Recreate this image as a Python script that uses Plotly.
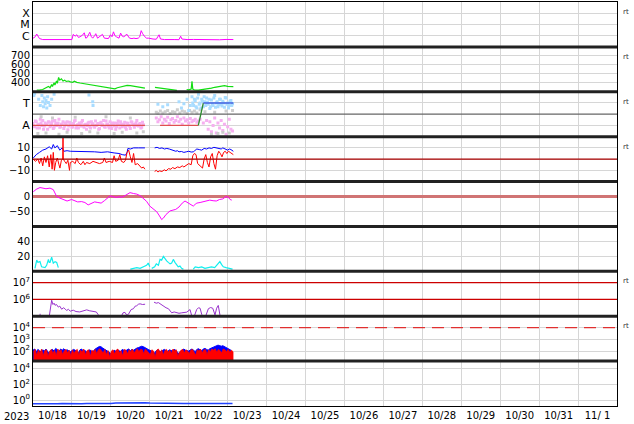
import pandas as pd
import plotly.graph_objects as go
from plotly.subplots import make_subplots

T0 = pd.Timestamp("2023-10-18 00:00")
X_START = "2023-10-18 00:00"
X_END = "2023-11-02 00:00"

# ---------------- data (hours after 2023-10-18 00:00, value) ----------------
xray = [(0, 6e-7), (1, 7e-7), (2.3, 1.4e-6), (3, 9e-7), (4, 5.5e-7), (6, 4.5e-7), (9, 4.5e-7), (12, 4.2e-7),
        (15, 4.5e-7), (18, 4.3e-7), (21, 4.5e-7), (24, 4.5e-7), (24.8, 1.3e-6), (26, 9e-7), (27, 1.2e-6),
        (28, 7e-7), (29, 8e-7), (30.5, 1.1e-6), (31.6, 1.8e-6), (32.5, 6e-7), (33.4, 7e-7), (34.2, 1.4e-6),
        (35, 2e-6), (36, 8e-7), (36.8, 6e-7), (38, 1e-6), (38.7, 1.5e-6), (39.8, 6e-7), (40.5, 7e-7),
        (42, 1.1e-6), (42.8, 1.3e-6), (44, 6e-7), (45, 6e-7), (46.5, 5.5e-7), (47.8, 1.2e-6), (48.7, 8e-7),
        (49.6, 2.2e-6), (50.5, 1e-6), (51.4, 8e-7), (53, 6e-7), (54, 1.7e-6), (55, 9e-7), (55.9, 8e-7),
        (57, 1e-6), (57.7, 1.4e-6), (58.8, 7e-7), (59.5, 6e-7), (61, 5.5e-7), (62.2, 6e-7), (63.5, 5.5e-7),
        (64.9, 6e-7), (65.8, 8e-7), (66.7, 2.8e-6), (67.6, 1.5e-6), (68.6, 9e-7), (70, 6e-7), (71.3, 6e-7),
        (74, 5e-7), (76, 4.8e-7), (77.7, 1.2e-6), (78.6, 5e-7), (81, 4.5e-7), (84, 4.8e-7), (87, 4.5e-7),
        (90, 4.4e-7), (91, 9e-7), (91.8, 5e-7), (95, 4.5e-7), (99, 4.6e-7), (103, 4.4e-7), (107, 4.5e-7),
        (111, 4.4e-7), (115, 4.3e-7), (119, 4.6e-7), (123.5, 4.5e-7)]

speed = [(2.3, 320), (4, 318), (6, 325), (8, 340), (9.5, 360), (10.5, 345), (11.5, 380), (12, 360), (13, 400),
         (13.5, 375), (14.5, 420), (15, 395), (15.8, 460), (16.5, 430), (17.5, 445), (18.5, 420), (19.5, 430),
         (20.5, 415), (22, 420), (23, 410), (24.5, 405), (25.5, 418), (27, 405), (29, 398), (31, 392), (33, 385),
         (35, 378), (37, 372), (39, 365), (41, 360), (43, 352), (45, 345), (47, 340), (49, 335), (50.5, 332),
         (52, 345), (54, 355), (56, 362), (58, 372), (60, 368), (62, 362), (64, 355), (66, 348), (68, 342),
         (69, 340), (69.5, None), (75.2, 350), (77, 345), (80, 335), (83, 328), (86, 320), (88.7, 315),
         (89, None), (94.7, 325), (96, 322), (97.5, 330), (98, 418), (98.5, 330), (99.5, 320), (102, 318),
         (104, 322), (106, 325), (108, 330), (110, 340), (112, 350), (114, 358), (116, 362), (118, 368),
         (120, 360), (122, 362), (123.5, 358)]

# IMF sector panel (angle, deg): A ~ 90, T ~ 270
pink_a = [105, 80, 120, 95, 70, 110, 130, 85, 100, 60, 115, 90, 125, 75, 105, 95, 140, 80, 100, 65,
          110, 120, 85, 95, 75, 105, 130, 90, 70, 100, 115, 85, 95, 60, 110, 80, 120, 100, 75, 90,
          105, 65, 115, 95, 80, 125, 100, 70, 90, 110, 85, 60, 105, 95, 120, 80, 100, 75, 110, 90,
          65, 115, 95, 100, 130, 85, 105, 75, 95]
pink_b = [85, 125, 70, 100, 140, 90, 60, 110, 95, 120, 80, 105, 65, 130, 90, 110, 75, 100, 120, 85,
          95, 55, 115, 100, 80, 125, 70, 95, 110, 85, 130, 75, 100, 90, 115, 70, 105, 85, 125, 95,
          60, 110, 90, 130, 75, 100, 85, 120, 65, 95, 110, 80, 125, 70, 100, 90, 115, 60, 105, 85,
          120, 95, 75, 110, 90, 100, 70, 115]
pink_c = [150, 120, 135, 160, 110, 140, 125, 155, 105, 135, 145, 115, 130, 160, 120, 140, 100, 150, 125, 135,
          110, 145, 120, 130, 140, 115, 125, 140, None, 110, None, 130, 60, 120, 40, 90, 150, 30, 110, 70,
          130, 50, 100, 20, 80, 140, 60, 45]
gray_pts = [(3, 25), (5, 160), (8, 30), (12, 150), (16, 20), (21, 35), (26, 155), (30, 25), (35, 40), (40, 30),
            (45, 160), (50, 25), (55, 35), (60, 150), (64, 30), (68, 40), (76, 195), (77, 185), (78.5, 205),
            (80, 190), (81.5, 200), (83, 210), (84.5, 185), (86, 200), (87.5, 195), (89, 215), (90.5, 190),
            (92, 205), (93.5, 200), (95, 185), (96.5, 210), (98, 195), (99.5, 205), (101, 190), (103, 215),
            (106, 200), (110, 20), (112, 195), (114, 25), (117, 35), (119, 205), (121, 30), (123, 210)]
blue_pts = [(0.5, 330), (1, 345), (3.5, 300), (4.5, 250), (5.5, 330), (6, 280), (6.5, 240), (7, 310), (7.5, 265),
            (8, 290), (8.5, 230), (9, 320), (9.5, 275), (10.5, 250), (11.5, 300), (13, 340), (34.5, 335),
            (36.8, 280), (37, 250), (77, 260), (80, 240), (83, 255), (90, 280), (91.5, 230), (93, 265),
            (95, 300), (96, 210), (97, 250)]
blue_c = [320, 250, 290, 230, 340, 270, 300, 240, 280, 310, 260, 225, 295, 250, 330, 270, 240, 300, 260, 285,
          235, 310, 270, 250, 290, 265]
blue_d = [270, 300, 240, 310, 260, 230, 285, 320, 250, 275, 300, 240, 265, 310, 235, 280, 255, 300, 245, 270,
          315, 260, 230, 285, 250]
sector_away = [(0, 90), (69, 90), (70, None), (78.3, 90), (101.9, 90)]
sector_turn = [(101.9, 90), (105, 270)]
sector_toward = [(105, 270), (123.5, 270)]

bt = [(0.2, 1), (2, 4), (4, 6), (6, 8), (8, 9), (10, 11), (11.5, 9), (12.5, 13), (13.5, 10), (15, 12), (16.5, 8),
      (18, 10), (19, 7), (21, 7.5), (23, 7), (26, 7), (30, 6.5), (34, 7), (38, 6.5), (42, 6), (46, 6.5),
      (50, 5.5), (53, 5), (55, 4), (57, 3.5), (58, 6), (58.5, 9.5), (60, 9), (62, 10), (65, 10), (69, 10),
      (70, None), (75, 10), (76.5, 10.5), (78, 9.5), (79.5, 10), (81, 9), (82.5, 9.5), (84, 9), (85, 8.5),
      (86, 8), (87, 7.5), (88, 7), (89, 7.5), (90, 6.5), (91.5, 6.8), (93, 6), (94.5, 6.5), (96, 7),
      (97.5, 6.3), (99, 6.5), (100, 8), (101, 9), (102.5, 8.5), (104, 8), (105.5, 9.5), (107, 9), (108.5, 10),
      (110, 9.5), (111.5, 10.5), (113, 10), (114.5, 9.5), (116, 9), (117, 10), (118, 9.5), (119, 8.5),
      (120, 8), (121, 9), (122, 8.5), (123.5, 7)]
bz = [(0.2, 0), (1.5, -2), (3, 0), (4, -4), (5, 1), (6, -6), (7, 2), (8, -3), (9, 3), (10, -7), (11, 4),
      (11.8, -9), (12.5, 6), (13.2, -10), (14, -3), (15, 1), (16, -5), (16.6, -8), (17.5, -1), (18.3, 0),
      (18.5, 21), (18.7, 0), (19.5, -2), (20.5, -4), (21.5, -1), (22.5, -10), (23, -3), (24.5, -2), (26, -4),
      (27, 1), (28, -3), (29.5, -5), (31, -2), (32, -5), (33, -3), (35, -4), (37, -2), (39, -3), (41, -4),
      (43, -3), (44, 1), (45, -3), (47, -2), (49, -3), (50, 3), (51, -2), (52.5, -1), (53.5, 4), (54.5, -2),
      (56, -3), (57, -1), (58, 6), (59, 8), (60, 2), (61, -3), (62, 5), (63, -5), (64.5, -4), (66, -6),
      (67, -8), (68, -7), (69, -9), (70, None), (75, -11), (76, -10), (77, -11.5), (78, -10.5), (79.5, -11),
      (81, -9.5), (82, -10.5), (83.5, -8.5), (85, -9), (86, -7.5), (87.5, -8.5), (89, -7), (90.5, -7.5),
      (92, -6), (93, -7), (94.5, -5.5), (96, -4), (97.5, -5), (98.5, 3), (99.5, 5), (100.5, 4), (101.5, -4),
      (103, -6), (104.5, -8), (105.5, 0), (106.5, 4), (107.5, -3), (108.5, -7), (109.5, 2), (110.5, 5),
      (111.5, -4), (112.5, -9), (113.5, 3), (114.5, 7), (115.5, 5), (116.5, 2), (117.5, 6), (118.5, 7),
      (119.5, 5), (120.5, 7), (121.5, 6), (122.5, 5), (123.5, 4)]

dst = [(0.2, 16), (2, 24), (4.3, 30), (6, 27), (8, 26), (10.5, 28), (12.5, 23), (13.5, 12), (14.6, 0),
       (16, -4), (17.7, -8), (19.5, -12), (21, -15), (23.8, -10), (26, -14), (27.5, -18), (30, -17), (32, -20),
       (34, -28), (36, -22), (38, -18), (40, -20), (42, -22), (44, -14), (45.5, -6), (47.5, 2), (49, 0),
       (51, -3), (53, -1), (55, -2), (57, 4), (59.8, 13), (62, 10), (64, 8), (66, 3), (68, -6), (70, -16),
       (72, -32), (74, -42), (76.3, -51), (78, -65), (79.3, -77), (80.4, -72), (82, -60), (84.5, -48),
       (86.5, -45), (88, -43), (90, -35), (92, -22), (93.7, -15), (95.5, -20), (97, -26), (98.8, -32),
       (100, -26), (101, -22), (103, -20), (105, -18), (107, -15), (109, -12), (111, -14), (113, -15),
       (115, -10), (117, -8), (119, 0), (120.5, -3), (121.5, -10), (122.5, -12)]

cyan = [(1.2, 4), (1.8, 14), (2.3, 15), (3, 12), (4.3, 13), (5.3, 6), (6.3, 5), (7.4, 5), (8.4, 8), (9.5, 16),
        (10, 12), (10.5, 12), (11.5, 19), (12.5, 11), (13.6, 13), (14.6, 12), (15.6, 5), (16, None), (60, 3),
        (62, 4), (64, 5), (66, 4), (68, 6), (70, 8), (71, 11), (72, 6), (72.5, None), (73.2, 4), (75, 6),
        (76, 10), (77.3, 8), (78.3, 16), (79.3, 15), (80.4, 20), (81, 18), (82.4, 14), (83.4, 12), (84.5, 10),
        (85.5, 11), (86.5, 16), (87.5, 12), (88.5, 8), (89.5, 6), (90.6, 7), (91.6, 4), (92.7, 3), (93, None),
        (98.8, 3), (100, 6), (102, 5), (104, 6), (106, 4), (108, 5), (110, 6), (112, 5), (113.2, 8),
        (114.5, 10), (115.2, 13), (116.3, 9), (117.3, 6), (119, 5), (121, 4), (123, 3)]

electrons = [(4.3, 1.0e5), (4.4, 1.4e5), (5, None), (10.1, 1.1e5), (11.0, 5e5), (11.5, 9e5), (12.3, 5e5),
             (13, 6e5), (13.6, 4.5e5), (14.5, 5e5), (15.6, 3.5e5), (16.5, 4e5), (17.7, 2.6e5), (18.7, 3.2e5),
             (19.7, 2.8e5), (20.7, 2.2e5), (21.8, 2.6e5), (23, 2e5), (24.8, 2.3e5), (26.5, 1.9e5),
             (28.8, 1.8e5), (31, 2.2e5), (33.1, 2.4e5), (35, 2.1e5), (37.2, 2e5), (39, 1.8e5), (40.3, 1.2e5),
             (41, None), (54.7, 1.1e5), (55.5, 1.6e5), (56.7, 1.7e5), (57.8, 1.15e5), (58.8, 1.3e5),
             (60.5, 2.5e5), (61.9, 2.8e5), (63, 4e5), (63.9, 4.2e5), (65, 5.2e5), (66, 5.5e5), (67.5, 5e5),
             (69.1, 5.2e5), (70, None), (74.6, 6.9e5), (76, 6e5), (77.3, 6.5e5), (79, 4.8e5), (80.4, 4e5),
             (82, 3.2e5), (83.5, 2.8e5), (85.5, 1.6e5), (87, 1.8e5), (88.6, 1.7e5), (90, 1.5e5), (91.7, 1.6e5),
             (93.3, 1.7e5), (94.8, 1.75e5), (96.8, 2.5e5), (97.8, 1.1e5), (99.5, 1.05e5), (100.9, 2.5e5),
             (102, 3.2e5), (103, 3e5), (104, 1.3e5), (104.5, 1.05e5), (106.5, 1.05e5), (108.1, 2.8e5),
             (109.5, 3.3e5), (110.8, 3e5), (112.2, 1.2e5), (113.2, 3e5), (114.2, 4.4e5), (115.3, 1.1e5)]

# hourly proton counts from hour 0
proton_blue = [120, 150, 90, 140, 110, 80, 130, 100, 150, 95, 60, 120, 140, 100, 170, 130, 90, 150, 120, 160,
               110, 130, 100, 90, 110, 140, 120, 90, 70, 130, 150, 100, 120, 80, 110, 130, 100, 90, 140, 160,
               210, 250, 230, 180, 150, 120, 100, 80, 60, 90, 120, 100, 130, 110, 90, 140, 120, 100, 130, 150,
               110, 140, 120, 160, 180, 200, 230, 260, 240, 210, 170, 140, 120, 100, 90, 70, 110, 130, 100, 80,
               120, 140, 110, 90, 130, 120, 100, 140, 120, 80, 60, 100, 130, 150, 120, 110, 100, 130, 150, 120,
               90, 140, 160, 130, 110, 150, 170, 140, 120, 160, 180, 200, 230, 280, 320, 300, 260, 290, 250, 200,
               170, 140, 120]
proton_red = [90, 140, 45, 120, 70, 150, 40, 110, 130, 35, 100, 140, 60, 120, 40, 150, 90, 130, 50, 110,
              140, 70, 120, 40, 130, 60, 110, 140, 45, 120, 80, 150, 50, 110, 130, 35, 120, 90, 140, 60,
              130, 160, 100, 70, 140, 50, 110, 30, 100, 130, 55, 120, 150, 70, 110, 40, 140, 120, 60, 130,
              90, 150, 70, 120, 160, 90, 140, 130, 60, 150, 110, 80, 50, 130, 100, 30, 120, 150, 70, 130,
              45, 110, 140, 80, 120, 60, 150, 100, 130, 35, 80, 120, 140, 70, 130, 100, 60, 120, 140, 80,
              45, 130, 100, 150, 70, 120, 140, 50, 130, 90, 150, 120, 160, 80, 140, 110, 70, 150, 130, 90,
              140, 80, 120, 90]
# 3-hourly values from hour 0
bottom_flux = [0.36, 0.35, 0.37, 0.36, 0.35, 0.36, 0.38, 0.36, 0.35, 0.37, 0.36, 0.38, 0.37, 0.36, 0.38, 0.4,
               0.39, 0.42, 0.44, 0.46, 0.5, 0.48, 0.45, 0.47, 0.44, 0.42, 0.41, 0.4, 0.39, 0.38, 0.4, 0.39,
               0.38, 0.37, 0.39, 0.38, 0.37, 0.36, 0.38, 0.37, 0.36, 0.37]

# thresholds / labels
XRAY_TICKS = [1e-4, 1e-5, 1e-6]
XRAY_LABELS = ["X", "M", "C"]
E_THRESH = [1e6, 1e7]
P_THRESH = 1e4


def ts(hours):
    return [T0 + pd.Timedelta(hours=h) for h in hours]


def unzip(pairs):
    return ts([p[0] for p in pairs]), [p[1] for p in pairs]


FONT = "DejaVu Sans"
fig = make_subplots(rows=9, cols=1, shared_xaxes=True, vertical_spacing=0)


def add_line(row, pairs, color, width=1.0):
    x, y = unzip(pairs)
    fig.add_trace(go.Scatter(x=x, y=y, mode="lines", line=dict(color=color, width=width),
                             connectgaps=False, showlegend=False), row=row, col=1)


def add_dots(row, x, y, color, size=3):
    fig.add_trace(go.Scatter(x=x, y=y, mode="markers",
                             marker=dict(color=color, size=size, symbol="square", line=dict(width=0)),
                             showlegend=False), row=row, col=1)


def add_hline(row, yv, color, width=1.0, dash="solid"):
    fig.add_trace(go.Scatter(x=[pd.Timestamp(X_START), pd.Timestamp(X_END)], y=[yv, yv], mode="lines",
                             line=dict(color=color, width=width, dash=dash), showlegend=False,
                             hoverinfo="skip"), row=row, col=1)


# Panel 1
add_line(1, xray, "#ff00ff", 1.0)
# Panel 2
add_line(2, speed, "#11dd11", 1.2)
# Panel 3
add_dots(3, ts([float(i) for i in range(len(pink_a))]), pink_a, "#f6b0f0")
add_dots(3, ts([i + 0.5 for i in range(len(pink_b))]), pink_b, "#f6b0f0")
add_dots(3, ts([76.0 + i for i in range(len(pink_c))]), pink_c, "#f6b0f0")
gx, gy = unzip(gray_pts)
add_dots(3, gx, gy, "#cdcdcd")
bx, by = unzip(blue_pts)
add_dots(3, bx, by, "#a9dcff")
add_dots(3, ts([98.0 + i for i in range(len(blue_c))]), blue_c, "#a9dcff")
add_dots(3, ts([98.5 + i for i in range(len(blue_d))]), blue_d, "#a9dcff")
add_hline(3, 180, "#666666", 1.3)
add_line(3, sector_away, "#e05050", 1.3)
add_line(3, sector_turn, "#2e8b2e", 1.3)
add_line(3, sector_toward, "#4060e0", 1.3)
# Panel 4
add_line(4, bt, "#0000ff", 1.0)
add_line(4, bz, "#ff0000", 1.0)
add_hline(4, 0, "#aa0000", 1.3)
# Panel 5
add_hline(5, 0, "#d07474", 3)
add_line(5, dst, "#ff00ff", 1.0)
# Panel 6
add_line(6, cyan, "#11eeee", 1.2)
# Panel 7
for thr in E_THRESH:
    add_hline(7, thr, "#cc0000", 1.3)
add_line(7, electrons, "#9933cc", 1.0)
# Panel 8
hb = [float(i) for i in range(len(proton_blue))]
hr = [float(i) + 0.3 for i in range(len(proton_red))]
fig.add_trace(go.Scatter(x=ts(hb + hb[::-1]), y=proton_blue + [1.0] * len(hb), mode="lines",
                         fill="toself", fillcolor="#0000ff", line=dict(color="#0000ff", width=1),
                         showlegend=False), row=8, col=1)
fig.add_trace(go.Scatter(x=ts(hr + hr[::-1]), y=proton_red + [1.0] * len(hr), mode="lines",
                         fill="toself", fillcolor="#ff0000", line=dict(color="#ff0000", width=0.8),
                         showlegend=False), row=8, col=1)
add_hline(8, P_THRESH, "#e03030", 1.3, "12px,7px")
# Panel 9
add_line(9, list(zip([3.0 * i for i in range(len(bottom_flux))], bottom_flux)), "#2244ff", 1.5)

# ---------------- axes ----------------
GRID = "#d6d6d6"
fig.update_xaxes(type="date", range=[X_START, X_END], tick0=X_START, dtick=86400000, showgrid=True,
                 gridcolor=GRID, gridwidth=1, showline=True, linecolor="black", linewidth=1, mirror=True,
                 ticks="", zeroline=False, ticklabelmode="period", tickformat="%m/%e",
                 tickfont=dict(family=FONT, size=10, color="black"))
fig.update_yaxes(showgrid=True, gridcolor=GRID, gridwidth=1, showline=True, linecolor="black", linewidth=1,
                 mirror=True, ticks="", zeroline=False, tickfont=dict(family=FONT, size=10, color="black"),
                 ticklabelstandoff=0)

fig.update_yaxes(row=1, type="log", range=[-7, -3], tickvals=XRAY_TICKS, ticktext=XRAY_LABELS,
                 tickfont=dict(size=11))
fig.update_yaxes(row=2, range=[300, 800], tickvals=[400, 500, 600, 700])
fig.update_yaxes(row=3, range=[0, 360], tickvals=[90, 270], ticktext=["A", "T"], tickfont=dict(size=11))
fig.update_yaxes(row=4, range=[-20, 20], tickvals=[-10, 0, 10])
fig.update_yaxes(row=5, range=[-100, 50], tickvals=[-50, 0])
fig.update_yaxes(row=6, range=[0, 60], tickvals=[20, 40])
fig.update_yaxes(row=7, type="log", range=[5, 7.68], tickvals=[1e6, 1e7],
                 ticktext=["10<sup>6</sup>", "10<sup>7</sup>"], showgrid=False)
fig.update_yaxes(row=8, type="log", range=[1.15, 4.97], tickvals=[1e2, 1e3, 1e4],
                 ticktext=["10<sup>2</sup>", "10<sup>3</sup>", "10<sup>4</sup>"])
fig.update_yaxes(row=9, type="log", range=[-0.74, 4.93], tickvals=[1, 1e2, 1e4],
                 ticktext=["10<sup>0</sup>", "10<sup>2</sup>", "10<sup>4</sup>"])

# separators between panels
shapes = []
for k in range(1, 9):
    shapes.append(dict(type="line", xref="paper", yref="paper", x0=0, x1=1, y0=k / 9, y1=k / 9,
                       line=dict(color="#222222", width=3)))

PLOT_H = 424 - 2 - 18
annotations = [dict(text="2023", xref="paper", yref="paper", x=-0.028, y=0, yanchor="top", xanchor="center",
                    yshift=-3, showarrow=False, font=dict(family=FONT, size=10, color="black"))]
for i in [0, 1, 2, 3, 6, 7]:
    yp = 1 - (i * PLOT_H / 9 + 10) / PLOT_H
    annotations.append(dict(text="rt", xref="paper", yref="paper", x=1.006, y=yp, xanchor="left",
                            yanchor="middle", showarrow=False, font=dict(family=FONT, size=7, color="#333333")))

fig.update_layout(width=634, height=424, margin=dict(l=33, r=17, t=2, b=18), paper_bgcolor="white",
                  plot_bgcolor="white", showlegend=False, shapes=shapes, annotations=annotations)

fig.write_html("out.html", config={"displayModeBar": False, "staticPlot": True},
               post_script="document.body.style.margin='0';document.body.style.overflow='hidden';")
